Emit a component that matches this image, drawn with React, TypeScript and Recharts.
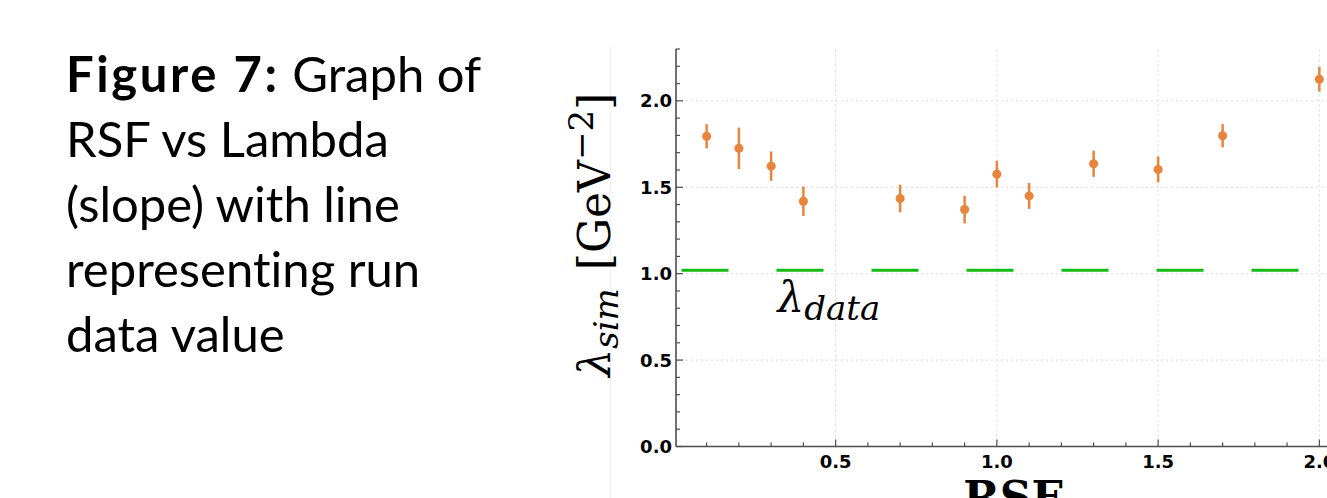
import React from "react";
import {
  ScatterChart,
  Scatter,
  ErrorBar,
  XAxis,
  YAxis,
  ReferenceLine,
  ReferenceDot,
  Label,
} from "recharts";

// --- data ---
const rsf = [0.1, 0.2, 0.3, 0.4, 0.7, 0.9, 1.0, 1.1, 1.3, 1.5, 1.7, 2.0];
const lambdaSim = [1.795, 1.725, 1.622, 1.419, 1.435, 1.371, 1.576, 1.45, 1.636, 1.603, 1.798, 2.125];
const lambdaErr = [0.07, 0.12, 0.085, 0.085, 0.08, 0.08, 0.077, 0.075, 0.076, 0.075, 0.067, 0.072];
const lambdaData = 1.02;

const xMajor = [0.5, 1.0, 1.5, 2.0];
const xMinor = [0.1, 0.2, 0.3, 0.4, 0.5, 0.6, 0.7, 0.8, 0.9, 1.0, 1.1, 1.2, 1.3, 1.4, 1.5, 1.6, 1.7, 1.8, 1.9, 2.0];
const yMajor = [0.0, 0.5, 1.0, 1.5, 2.0];
const yMinor = [0.0, 0.1, 0.2, 0.3, 0.4, 0.5, 0.6, 0.7, 0.8, 0.9, 1.0, 1.1, 1.2, 1.3, 1.4, 1.5, 1.6, 1.7, 1.8, 1.9, 2.0, 2.1, 2.2, 2.3];
const xGrid = [0.5, 1.0, 1.5, 2.0];
const yGrid = [0.5, 1.0, 1.5, 2.0];

const points = rsf.map((x, i) => ({ x, y: lambdaSim[i], err: lambdaErr[i] }));

const ORANGE = "#e8843c";
const GREEN = "#14bb14";
const AXIS = "#4d4d4d";
const tickFont = { fontFamily: "DejaVu Sans", fontWeight: 700, fontSize: 18, fill: "#000" };

const BottomTick = (props: any) => {
  const { x, y, payload } = props;
  const major = xMajor.includes(payload.value);
  return (
    <g>
      <line x1={x} x2={x} y1={y} y2={y - (major ? 7 : 4)} stroke={AXIS} strokeWidth={1.2} />
      {major && (
        <text x={x} y={y + 21} textAnchor="middle" {...tickFont}>
          {payload.value.toFixed(1)}
        </text>
      )}
    </g>
  );
};

const TopTick = (props: any) => {
  const { x, y, payload } = props;
  const major = xMajor.includes(payload.value);
  return <line x1={x} x2={x} y1={y} y2={y + (major ? 7 : 4)} stroke={AXIS} strokeWidth={1.2} />;
};

const LeftTick = (props: any) => {
  const { x, y, payload } = props;
  const major = yMajor.includes(payload.value);
  return (
    <g>
      <line x1={x} x2={x + (major ? 7 : 4)} y1={y} y2={y} stroke={AXIS} strokeWidth={1.2} />
      {major && (
        <text x={x - 4} y={y + 6.5} textAnchor="end" {...tickFont}>
          {payload.value.toFixed(1)}
        </text>
      )}
    </g>
  );
};

const YTitle = (props: any) => {
  const { viewBox } = props;
  const cx = viewBox.x - 6;
  const cy = viewBox.y + viewBox.height / 2 - 13;
  return (
    <text
      x={cx}
      y={cy}
      transform={`rotate(-90, ${cx}, ${cy})`}
      textAnchor="middle"
      fontFamily="DejaVu Serif"
      fontSize={44}
      fill="#000"
    >
      <tspan fontStyle="italic">λ</tspan>
      <tspan fontStyle="italic" fontSize={34} dy={8}>sim</tspan>
      <tspan dy={-8} dx={18}>[GeV</tspan>
      <tspan fontSize={34} dy={-17}>−2</tspan>
      <tspan dy={17}>]</tspan>
    </text>
  );
};

const XTitle = (props: any) => {
  const { viewBox } = props;
  return (
    <text
      x={viewBox.x + viewBox.width / 2}
      y={viewBox.y + 66}
      textAnchor="middle"
      fontFamily="DejaVu Serif"
      fontWeight={700}
      fontSize={44}
      fill="#000"
    >
      RSF
    </text>
  );
};

const DataTag = (props: any) => {
  const { viewBox } = props;
  return (
    <text x={viewBox.x} y={viewBox.y} fontFamily="DejaVu Serif" fontStyle="italic" fontSize={42} fill="#000">
      λ
      <tspan fontSize={34} dy={8}>data</tspan>
    </text>
  );
};

export default function App() {
  return (
    <div style={{ position: "absolute", left: 0, top: 0, width: 1327, height: 498, overflow: "hidden", background: "#fff" }}>
      <div
        style={{
          position: "absolute",
          left: 66,
          top: 41,
          fontFamily: "Lato",
          fontSize: 49,
          lineHeight: "65px",
          color: "#000",
          whiteSpace: "nowrap",
          fontVariantLigatures: "none",
        }}
      >
        <b style={{ letterSpacing: 2.6 }}>Figure 7:</b> Graph of
        <br />
        RSF vs Lambda
        <br />
        (slope) with line
        <br />
        representing run
        <br />
        data value
      </div>
      <div style={{ position: "absolute", left: 610, top: 45, width: 1, height: 453, background: "#f2f2f2" }} />
      <div style={{ position: "absolute", left: 0, top: 0 }}>
        <ScatterChart width={1370} height={498} margin={{ top: 49, right: 20, bottom: 21.5, left: 616 }}>
          <XAxis
            xAxisId="top"
            orientation="top"
            dataKey="x"
            type="number"
            domain={[0.005, 2.095]}
            allowDataOverflow
            ticks={xMinor}
            interval={0}
            height={0}
            tickSize={0}
            tickMargin={0}
            tickLine={false}
            tick={<TopTick />}
            axisLine={{ stroke: AXIS, strokeWidth: 1.6 }}
          />
          <XAxis
            dataKey="x"
            type="number"
            domain={[0.005, 2.095]}
            allowDataOverflow
            ticks={xMinor}
            interval={0}
            height={30}
            tickSize={0}
            tickMargin={0}
            tickLine={false}
            tick={<BottomTick />}
            axisLine={{ stroke: AXIS, strokeWidth: 1.6 }}
          >
            <Label content={<XTitle />} />
          </XAxis>
          <YAxis
            dataKey="y"
            type="number"
            domain={[0, 2.3]}
            allowDataOverflow
            ticks={yMinor}
            interval={0}
            width={60}
            tickSize={0}
            tickMargin={0}
            tickLine={false}
            tick={<LeftTick />}
            axisLine={{ stroke: AXIS, strokeWidth: 1.6 }}
          >
            <Label content={<YTitle />} />
          </YAxis>
          {xGrid.map((v) => (
            <ReferenceLine key={`gx${v}`} x={v} stroke="#d9d9d9" strokeDasharray="2 3" strokeWidth={1} />
          ))}
          {yGrid.map((v) => (
            <ReferenceLine key={`gy${v}`} y={v} stroke="#d9d9d9" strokeDasharray="2 3" strokeWidth={1} />
          ))}
          <ReferenceLine
            y={lambdaData}
            stroke={GREEN}
            strokeWidth={3}
            strokeDasharray="47 48"
            strokeDashoffset={89.5}
          />
          <ReferenceDot x={0.32} y={0.78} r={0} fill="none" stroke="none" label={<DataTag />} />
          <Scatter data={points} fill={ORANGE} isAnimationActive={false}>
            <ErrorBar dataKey="err" direction="y" width={0} stroke={ORANGE} strokeWidth={2.5} />
          </Scatter>
        </ScatterChart>
      </div>
    </div>
  );
}
